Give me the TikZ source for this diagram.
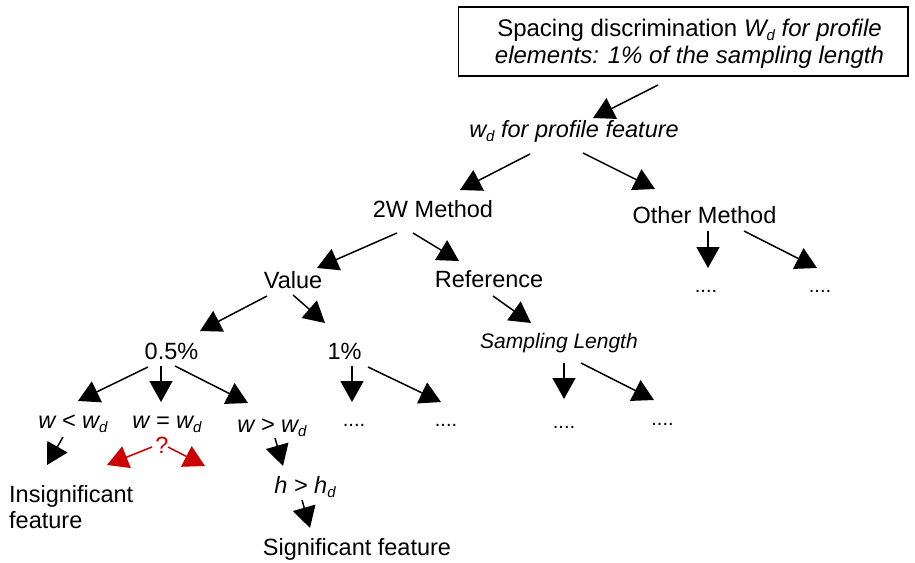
\documentclass[tikz,border=0pt]{standalone}
\usepackage{fontspec}
\setmainfont{Liberation Sans}
\usetikzlibrary{arrows.meta}
\definecolor{qred}{RGB}{204,0,0}
% lowered, smaller index letter (w_d, h_d, W_d)
\newcommand\idx[1]{\raisebox{-0.2em}{\fontsize{15}{15}\selectfont #1}}

\begin{document}
\begin{tikzpicture}[x=1pt,y=-1pt,
  lbl/.style={inner sep=0pt, anchor=base, font=\fontsize{23.5}{27}\selectfont},
  ilbl/.style={lbl, font=\fontsize{23.5}{27}\selectfont\itshape},
  boxtext/.style={inner sep=0pt, anchor=base, align=center, font=\fontsize{24}{27}\selectfont},
  slbl/.style={inner sep=0pt, anchor=base, font=\fontsize{21}{25}\selectfont\itshape},
  dots/.style={inner sep=0pt, anchor=base, font=\fontsize{20}{24}\selectfont},
  arr/.style={line width=1.5pt, -{Triangle[length=21pt,width=23pt]}},
  qarr/.style={arr, color=qred}]
\useasboundingbox (0,0) rectangle (915,562);

% heading box (the text node's base is its last line)
\node[draw, line width=1.4pt, minimum width=449.5pt, minimum height=69pt, inner sep=0pt]
  (specbox) at (683.25,41.5) {};
\node[boxtext] (spec) at (689.5,63)
  {Spacing discrimination \textit{W\idx{d} for profile}\\
   \textit{elements: 1\% of the sampling length}};

% tree labels
\node[ilbl] (feat) at (574,137) {w\idx{d} for profile feature};
\node[lbl] (m2w) at (433,217) {2W Method};
\node[lbl] (mother) at (704.5,223) {Other Method};
\node[lbl] (value) at (293,288) {Value};
\node[lbl] (ref) at (489,287) {Reference};
\node[lbl] (p05) at (171.5,359) {0.5\%};
\node[lbl] (p1) at (344.5,359) {1\%};
\node[slbl] (samp) at (559,348) {Sampling Length};

\node[dots] (dO1) at (706,292) {....};
\node[dots] (dO2) at (820,292) {....};
\node[dots] (dP1) at (354,426) {....};
\node[dots] (dP2) at (446,426) {....};
\node[dots] (dS1) at (564,428) {....};
\node[dots] (dS2) at (662.5,425) {....};

\node[ilbl] (wlt) at (73,428) {w < w\idx{d}};
\node[ilbl] (weq) at (167,428) {w = w\idx{d}};
\node[ilbl] (wgt) at (272,432) {w > w\idx{d}};
\node[lbl, text=qred] (qm) at (162,453) {?};
\node[lbl, anchor=base west, align=left, font=\fontsize{23.5}{26}\selectfont] (insig) at (9,528) {Insignificant\\feature};
\node[ilbl] (hgt) at (305,493) {h > h\idx{d}};
\node[lbl] (sig) at (357,555) {Significant feature};

% connector ends
\coordinate (a1t) at (658,85);   \coordinate (a1h) at (593,118);
\coordinate (a2t) at (530,154);  \coordinate (a2h) at (460,190);
\coordinate (a3t) at (583,153);  \coordinate (a3h) at (655,189);
\coordinate (a4t) at (397,233);  \coordinate (a4h) at (317,268);
\coordinate (a5t) at (413,233);  \coordinate (a5h) at (459,261);
\coordinate (a6t) at (708,231);  \coordinate (a6h) at (708,268);
\coordinate (a7t) at (744,231);  \coordinate (a7h) at (817,268);
\coordinate (a8t) at (267,296);  \coordinate (a8h) at (200,331);
\coordinate (a9t) at (293,295);  \coordinate (a9h) at (325,323);
\coordinate (a10t) at (493,296); \coordinate (a10h) at (531,323);
\coordinate (a11t) at (148,367); \coordinate (a11h) at (78,401);
\coordinate (a12t) at (161,366); \coordinate (a12h) at (161,402);
\coordinate (a13t) at (175,366); \coordinate (a13h) at (248,403);
\coordinate (a14t) at (352,366); \coordinate (a14h) at (352,402);
\coordinate (a15t) at (368,367); \coordinate (a15h) at (441,402);
\coordinate (a16t) at (564,363); \coordinate (a16h) at (564,399);
\coordinate (a17t) at (581,363); \coordinate (a17h) at (654,400);
\coordinate (a18t) at (63,437);  \coordinate (a18h) at (47,465);
\coordinate (a19t) at (152,447); \coordinate (a19h) at (107,465);
\coordinate (a20t) at (168,447); \coordinate (a20h) at (205,466);
\coordinate (a21t) at (275,438); \coordinate (a21h) at (283,466);
\coordinate (a22t) at (302,500); \coordinate (a22h) at (310,528);

\foreach \k in {1,...,18,21,22} \draw[arr] (a\k t) -- (a\k h);
\draw[qarr] (a19t) -- (a19h);
\draw[qarr] (a20t) -- (a20h);
\end{tikzpicture}
\end{document}
